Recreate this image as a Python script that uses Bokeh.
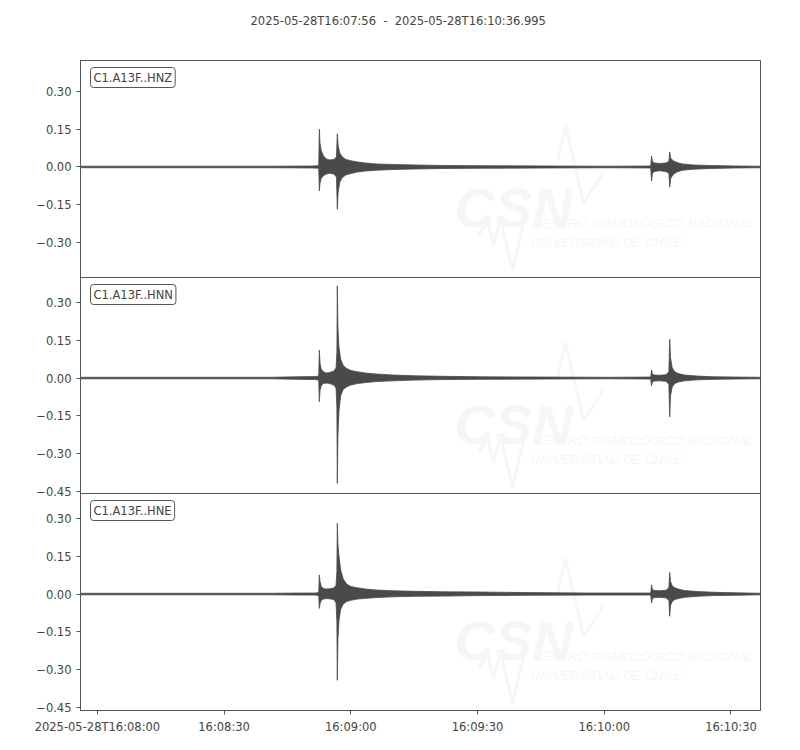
from bokeh.plotting import figure
from bokeh.models import Range1d, FixedTicker, CustomJSTickFormatter, Label, ColumnDataSource, Span, Title
from bokeh.embed import file_html
from bokeh.resources import INLINE

# ---------------- data ----------------
TITLE = "2025-05-28T16:07:56 \u00a0-\u00a0 2025-05-28T16:10:36.995"
DURATION = 160.995  # seconds since 2025-05-28T16:07:56

channels = ["C1.A13F..HNZ", "C1.A13F..HNN", "C1.A13F..HNE"]
y_limits = [(-0.439, 0.423), (-0.458, 0.399), (-0.462, 0.399)]

x_tick_vals = [4, 34, 64, 94, 124, 154]
x_tick_labels = ["2025-05-28T16:08:00", "16:08:30", "16:09:00", "16:09:30", "16:10:00", "16:10:30"]
y_tick_vals = [-0.45, -0.30, -0.15, 0.0, 0.15, 0.30]
y_tick_labels = ["\u22120.45", "\u22120.30", "\u22120.15", "0.00", "0.15", "0.30"]

# envelopes (seconds since start, upper / lower amplitude)
hnz_t = [0, 25, 45, 55, 56.4, 56.55, 56.7, 57.0, 57.5, 58.2, 59.0, 60.0, 60.6, 60.8, 61.0, 61.4, 62.0, 62.8,
         64.0, 65.5, 67.5, 70, 74, 79, 86, 95, 110, 125, 135.0, 135.2, 135.4, 135.9, 137, 138.6, 139.3, 139.5,
         139.75, 140.3, 141.2, 142.5, 145, 149, 155, 161]
hnz_up = [.003, .003, .003, .004, .005, .150, .095, .065, .045, .032, .028, .030, .040, .132, .085, .055, .040, .030,
          .025, .020, .016, .012, .010, .008, .006, .005, .004, .003, .004, .044, .022, .016, .014, .016, .022, .060,
          .035, .025, .018, .012, .008, .006, .004, .003]
hnz_lo = [-.003, -.003, -.003, -.004, -.005, -.095, -.065, -.045, -.035, -.028, -.025, -.028, -.040, -.168, -.100,
          -.060, -.042, -.032, -.026, -.020, -.016, -.013, -.010, -.008, -.006, -.005, -.004, -.003, -.004, -.056,
          -.025, -.018, -.015, -.018, -.025, -.080, -.045, -.030, -.020, -.013, -.009, -.006, -.004, -.003]

hnn_t = [0, 25, 45, 51, 55.5, 56.4, 56.55, 56.7, 57.0, 57.5, 58.2, 59.0, 60.0, 60.5, 60.7, 60.8, 60.95, 61.2, 61.6,
         62.2, 63.0, 64.0, 65.5, 67.5, 70, 74, 79, 86, 95, 110, 125, 135.0, 135.2, 135.4, 135.9, 137, 138.6, 139.3,
         139.5, 139.7, 140.1, 140.7, 141.5, 143, 146, 150, 155, 161]
hnn_up = [.003, .003, .003, .005, .006, .008, .111, .060, .035, .025, .020, .022, .028, .040, .100, .366, .200, .120,
          .075, .050, .038, .030, .025, .020, .016, .012, .009, .007, .005, .004, .003, .004, .032, .015, .012, .011,
          .013, .025, .154, .080, .040, .025, .018, .012, .008, .005, .004, .003]
hnn_lo = [-.003, -.003, -.003, -.005, -.006, -.008, -.094, -.050, -.030, -.022, -.020, -.022, -.028, -.040, -.120,
          -.418, -.230, -.130, -.070, -.045, -.035, -.028, -.022, -.018, -.014, -.011, -.008, -.006, -.005, -.004,
          -.003, -.004, -.031, -.015, -.012, -.011, -.013, -.025, -.154, -.070, -.035, -.022, -.016, -.011, -.007,
          -.005, -.004, -.003]

hne_t = [0, 25, 45, 52, 55.5, 56.4, 56.55, 56.7, 57.0, 57.5, 58.2, 59.0, 60.0, 60.5, 60.7, 60.8, 60.95, 61.2, 61.6,
         62.2, 63.0, 64.0, 65.5, 67.5, 70, 74, 79, 86, 95, 105, 120, 135.0, 135.2, 135.4, 135.9, 137, 138.6, 139.3,
         139.5, 139.7, 140.1, 140.7, 141.5, 143, 146, 150, 155, 161]
hne_up = [.003, .003, .003, .004, .004, .006, .076, .050, .030, .022, .020, .021, .024, .035, .090, .281, .200, .150,
          .095, .060, .040, .030, .025, .020, .016, .013, .011, .009, .008, .006, .004, .004, .036, .018, .014, .013,
          .015, .025, .086, .050, .032, .025, .020, .014, .010, .007, .005, .003]
hne_lo = [-.003, -.003, -.003, -.004, -.004, -.006, -.057, -.040, -.025, -.020, -.018, -.019, -.022, -.035, -.110,
          -.342, -.180, -.105, -.060, -.040, -.030, -.025, -.020, -.017, -.014, -.011, -.009, -.008, -.006, -.005,
          -.004, -.004, -.035, -.018, -.014, -.013, -.015, -.025, -.088, -.045, -.030, -.022, -.018, -.013, -.009,
          -.006, -.005, -.003]

traces = [(hnz_t, hnz_up, hnz_lo), (hnn_t, hnn_up, hnn_lo), (hne_t, hne_up, hne_lo)]

# ---------------- style / layout ----------------
FONT = "DejaVu Sans"
TXT = "#444444"
EDGE = "#555555"
WAVE = "#4a4a4a"
WM = "#f6f6f6"
FRAME_W = 680
panel_h = [217, 216, 217]          # pixel heights of the three stacked panels (top to bottom)
FRAME_H = sum(panel_h)
panel_b = [panel_h[2] + panel_h[1], panel_h[2], 0]   # bottom of each panel, pixels above frame bottom
LEFT, RIGHT, TOP, BOTTOM = 80, 40, 60, 40

fmt_code = """
let best = -1;
for (let i = 0; i < vals.length; i++) { if (Math.abs(vals[i] - tick) < 1e-6) { best = i; } }
return best >= 0 ? labs[best] : '';
"""

p = figure(width=LEFT + FRAME_W + RIGHT, height=TOP + FRAME_H + BOTTOM,
           x_range=Range1d(0, DURATION), y_range=Range1d(0, FRAME_H),
           output_backend="svg", toolbar_location=None, tools="", title_location=None,
           min_border_left=LEFT, min_border_right=RIGHT, min_border_top=TOP, min_border_bottom=BOTTOM)
p.grid.visible = False
p.outline_line_color = EDGE
p.outline_line_width = 1
p.background_fill_color = "white"
p.border_fill_color = "white"

# spacer next to the frame, then the real title further up
p.add_layout(Title(text=" ", text_font=FONT, text_font_size="11.5px", standoff=2), "above")
p.add_layout(Title(text=TITLE, text_font=FONT, text_font_size="11.5px", text_font_style="normal",
                   text_color=TXT, align="left", offset=170, vertical_align="top", standoff=26), "above")

# y tick positions: each panel's own amplitude scale mapped into its band
tick_pos, tick_lab = [], []
for k in range(3):
    lo, hi = y_limits[k]
    for v, lab in zip(y_tick_vals, y_tick_labels):
        if lo <= v <= hi:
            tick_pos.append(panel_b[k] + (v - lo) / (hi - lo) * panel_h[k])
            tick_lab.append(lab)

ya = p.yaxis[0]
ya.ticker = FixedTicker(ticks=tick_pos)
ya.formatter = CustomJSTickFormatter(args=dict(vals=tick_pos, labs=tick_lab), code=fmt_code)
xa = p.xaxis[0]
xa.ticker = FixedTicker(ticks=x_tick_vals)
xa.formatter = CustomJSTickFormatter(args=dict(vals=x_tick_vals, labs=x_tick_labels), code=fmt_code)
for ax in (ya, xa):
    ax.major_tick_in = 0
    ax.major_tick_out = 4
    ax.minor_tick_out = 0
    ax.minor_tick_in = 0
    ax.axis_line_color = EDGE
    ax.major_tick_line_color = EDGE
    ax.major_label_text_font = FONT
    ax.major_label_text_font_size = "11.5px"
    ax.major_label_text_color = TXT
    ax.major_label_standoff = 5

sx = DURATION / FRAME_W

for k in range(3):
    lo, hi = y_limits[k]
    h, b = panel_h[k], panel_b[k]
    name = "amp%d" % k
    # amplitude range of this panel, extended so that it covers only its band of the frame
    upp = (hi - lo) / h
    p.extra_y_ranges[name] = Range1d(lo - b * upp, hi + (FRAME_H - b - h) * upp)

    def X(dx):
        return dx * sx

    def Y(dy, b=b, h=h):
        return b + h - dy

    # faint watermark (CSN logo)
    p.add_layout(Label(x=X(374), y=Y(147), text="CSN", text_font="Liberation Sans",
                       text_font_style="bold italic", text_font_size="56px", text_color=WM,
                       text_align="left", text_baseline="alphabetic"))
    p.line([X(477), X(485), X(503), X(523)], [Y(100), Y(65), Y(143), Y(112)],
           line_color=WM, line_width=3)
    p.line([X(398), X(407), X(413), X(420), X(432), X(446)],
           [Y(175), Y(160), Y(185), Y(158), Y(210), Y(150)], line_color=WM, line_width=3)
    p.add_layout(Label(x=X(452), y=Y(163), text="CENTRO SISMOLÓGICO NACIONAL", text_font="Liberation Sans",
                       text_font_style="italic", text_font_size="13px", text_color=WM,
                       text_align="left", text_baseline="middle"))
    p.add_layout(Label(x=X(450), y=Y(182), text="UNIVERSIDAD DE CHILE", text_font="Liberation Sans",
                       text_font_style="italic", text_font_size="13px", text_color=WM,
                       text_align="left", text_baseline="middle"))

    # waveform envelope on this panel's amplitude scale
    t, up, lw = traces[k]
    src = ColumnDataSource(dict(t=t, up=up, lo=lw))
    p.varea(x="t", y1="lo", y2="up", source=src, fill_color=WAVE, fill_alpha=1.0, y_range_name=name)
    p.line(x="t", y="up", source=src, line_color=WAVE, line_width=0.8, y_range_name=name)
    p.line(x="t", y="lo", source=src, line_color=WAVE, line_width=0.8, y_range_name=name)

    # channel label box
    p.add_layout(Label(x=X(10), y=Y(7), text=channels[k], text_font=FONT, text_font_size="11.5px",
                       text_color=TXT, text_align="left", text_baseline="top",
                       border_line_color=EDGE, border_line_width=1, background_fill_color="white",
                       background_fill_alpha=1.0, padding=3, border_radius=3))

# panel separators
for k in range(2):
    p.add_layout(Span(location=panel_b[k], dimension="width", line_color=EDGE, line_width=1))

open("out.html", "w").write(file_html(p, INLINE))
